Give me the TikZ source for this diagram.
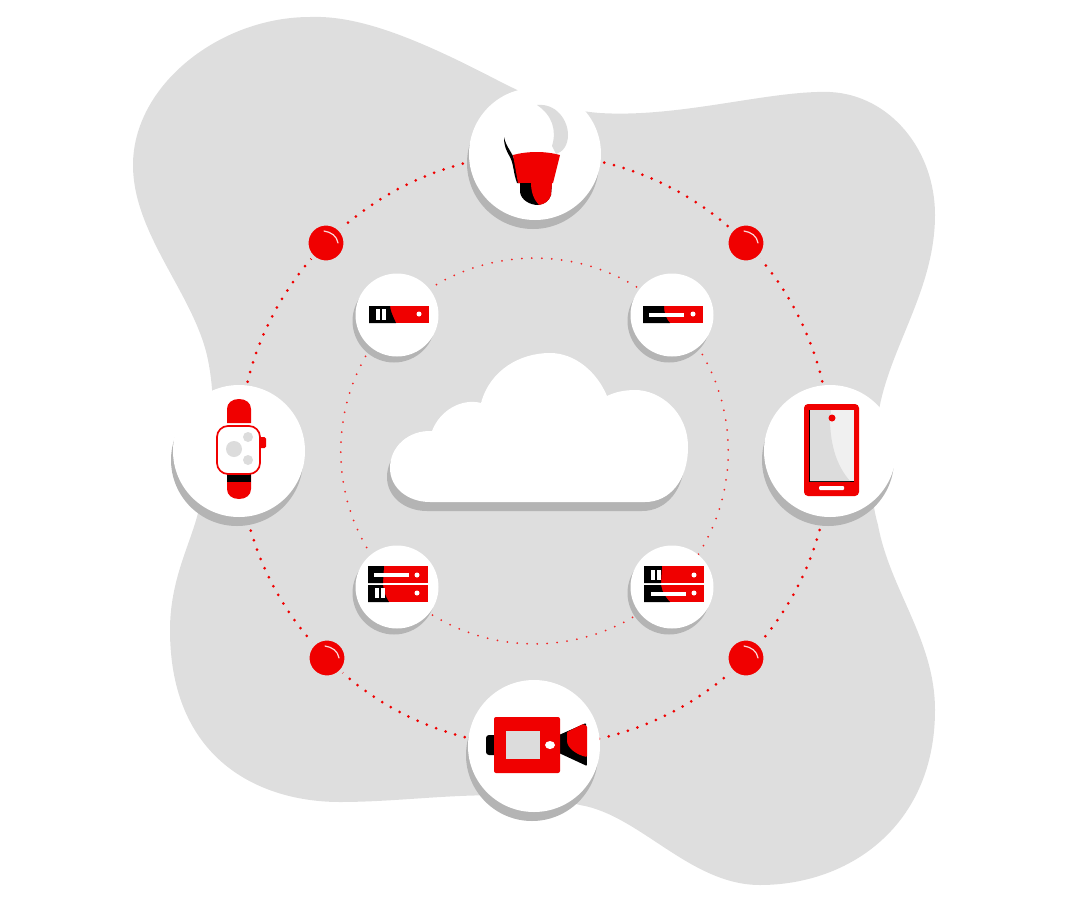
\documentclass[tikz,border=0pt]{standalone}
\usetikzlibrary{shadows,backgrounds}
\definecolor{iconred}{HTML}{F00000}
\definecolor{blobgray}{HTML}{DEDEDE}
\definecolor{shadowgray}{HTML}{B4B4B4}
\definecolor{icongray}{HTML}{DCDCDC}
\pgfdeclarelayer{backdrop}
\pgfsetlayers{backdrop,background,main}
\tikzset{
	hub/.style={circle,fill=white,minimum size=132pt,inner sep=0pt,drop shadow={shadow xshift=-2pt,shadow yshift=-9pt,fill=shadowgray,opacity=1}},
	server/.style={circle,fill=white,minimum size=83pt,inner sep=0pt,drop shadow={shadow xshift=-3pt,shadow yshift=-6pt,fill=shadowgray,opacity=1}},
	ball/.style={circle,fill=iconred,draw=blobgray,line width=4pt,minimum size=39pt,inner sep=0pt},
	outerring/.style={draw=iconred,line width=3pt,line cap=round,dash pattern=on 0pt off 10pt,bend left=22.5,looseness=0.885},
	innerring/.style={draw=iconred!85!white,line width=2pt,line cap=round,dash pattern=on 0pt off 10pt,bend left=45},
}
\begin{document}
\begin{tikzpicture}[x=1pt,y=-1pt]
	\useasboundingbox (0,0) rectangle (1080,900);
	% backdrop
	\begin{pgfonlayer}{backdrop}
	\fill[blobgray] (310,17) .. controls (360,15) and (420,40) .. (497,80) .. controls (530,97) and (560,110) .. (600,113) .. controls (680,118) and (770,90) .. (830,92) .. controls (890,95) and (935,150) .. (935,215) .. controls (935,285) and (895,340) .. (881,400) .. controls (870,450) and (868,490) .. (878,525) .. controls (890,590) and (935,640) .. (935,710) .. controls (935,825) and (850,885) .. (760,885) .. controls (690,885) and (640,815) .. (580,805) .. controls (500,785) and (420,802) .. (340,802) .. controls (260,802) and (170,760) .. (170,630) .. controls (170,580) and (190,545) .. (198,513) .. controls (207,475) and (220,420) .. (208,360) .. controls (195,295) and (133,235) .. (133,165) .. controls (133,85) and (220,17) .. (310,17) -- cycle;
	\end{pgfonlayer}

	% devices
	\node[hub] (Lamp) at (535,154) {};
	\node[hub] (Phone) at (830,451) {};
	\node[hub] (Camera) at (534,746) {};
	\node[hub] (Watch) at (239,451) {};
	% servers
	\node[server] (ServerNW) at (397,315) {};
	\node[server] (ServerNE) at (672,315) {};
	\node[server] (ServerSE) at (672,587) {};
	\node[server] (ServerSW) at (397,587) {};
	% red balls
	\node[ball] (BallNW) at (326,243) {};
	\node[ball] (BallNE) at (746,243) {};
	\node[ball] (BallSE) at (746,658) {};
	\node[ball] (BallSW) at (327,658) {};
	\foreach \bx/\by in {326/243,746/243,746/658,327/658}
		\draw[white,line width=1.2pt,line cap=round,opacity=0.85] (\bx-2,\by-12) .. controls (\bx+5,\by-11) and (\bx+11,\by-7) .. (\bx+12,\by);

	% rings, behind the nodes
	\begin{scope}[on background layer]
	\draw[outerring] (Lamp.center) to (BallNE.center);
	\draw[outerring] (BallNE.center) to (Phone.center);
	\draw[outerring] (Phone.center) to (BallSE.center);
	\draw[outerring] (BallSE.center) to (Camera.center);
	\draw[outerring] (Camera.center) to (BallSW.center);
	\draw[outerring] (BallSW.center) to (Watch.center);
	\draw[outerring] (Watch.center) to (BallNW.center);
	\draw[outerring] (BallNW.center) to (Lamp.center);
	\draw[innerring] (ServerNW.center) to (ServerNE.center);
	\draw[innerring] (ServerNE.center) to (ServerSE.center);
	\draw[innerring] (ServerSE.center) to (ServerSW.center);
	\draw[innerring] (ServerSW.center) to (ServerNW.center);
	\end{scope}

	% cloud
	\fill[shadowgray,xshift=-3pt,yshift=-9pt] (430,502) -- (645,502) .. controls (670,502) and (688,480) .. (688,447) .. controls (688,412) and (660,390) .. (635,390) .. controls (625,390) and (615,392) .. (607,396) .. controls (597,372) and (575,353) .. (550,353) .. controls (520,353) and (490,370) .. (481,403) .. controls (462,398) and (440,410) .. (432,431) .. controls (408,430) and (390,447) .. (390,468) .. controls (390,488) and (408,502) .. (430,502) -- cycle;
	\fill[white] (430,502) -- (645,502) .. controls (670,502) and (688,480) .. (688,447) .. controls (688,412) and (660,390) .. (635,390) .. controls (625,390) and (615,392) .. (607,396) .. controls (597,372) and (575,353) .. (550,353) .. controls (520,353) and (490,370) .. (481,403) .. controls (462,398) and (440,410) .. (432,431) .. controls (408,430) and (390,447) .. (390,468) .. controls (390,488) and (408,502) .. (430,502) -- cycle;

	% lamp icon
	\fill[icongray] (537,105) .. controls (556,103) and (568,120) .. (568,135) .. controls (568,145) and (563,152) .. (556,154) -- (552,146) .. controls (557,130) and (552,115) .. (537,105) -- cycle;
	\fill[black] (504,137) .. controls (506,146) and (510,150) .. (513,156) .. controls (516,165) and (516,172) .. (520,183) -- (517,183) .. controls (513,172) and (514,165) .. (510,157) .. controls (506,150) and (504,146) .. (504,137) -- cycle;
	\fill[iconred] (513,155) .. controls (528,151) and (545,151) .. (560,155) -- (553,183) -- (518,183) -- cycle;
	\fill[black] (520,183) -- (552,183) -- (551,195) .. controls (549,201) and (545,204) .. (538,205) .. controls (530,205) and (521,200) .. (520,192) -- cycle;
	\fill[iconred] (531,183) -- (552,183) -- (551,195) .. controls (549,201) and (545,204) .. (539,205) .. controls (534,200) and (531,192) .. (531,183) -- cycle;

	% watch icon
	\fill[iconred] (227,423) -- (227,409) .. controls (227,403) and (232,399) .. (239,399) .. controls (246,399) and (251,403) .. (251,409) -- (251,423) -- cycle;
	\fill[iconred] (227,474) -- (227,489) .. controls (227,495) and (232,499) .. (239,499) .. controls (246,499) and (251,495) .. (251,489) -- (251,474) -- cycle;
	\fill[black] (227,474) rectangle (251,482);
	\fill[iconred,rounded corners=1.5pt] (258,437) rectangle (266,448);
	\draw[iconred,fill=white,line width=1.7pt,rounded corners=11pt] (217,426) rectangle (260,474);
	\fill[icongray] (234,449) circle (8);
	\fill[icongray] (248,437) circle (5);
	\fill[icongray] (248,460) circle (5);

	% phone icon
	\fill[iconred,rounded corners=4pt] (804,404) rectangle (859,496);
	\fill[black] (809,410) rectangle (854,482);
	\fill[white!94!black] (810,410) rectangle (854,481);
	\fill[icongray] (810,410) -- (831,410) -- (830,423) .. controls (831,445) and (836,465) .. (850,481) -- (810,481) -- cycle;
	\fill[iconred] (832,418) circle (3.5);
	\fill[white,rounded corners=1pt] (819,486) rectangle (844,490);

	% camera icon
	\fill[black,rounded corners=3pt] (486,735) rectangle (497,755);
	\fill[black,rounded corners=1pt] (559,735) -- (586,723) -- (587,766) -- (559,753) -- cycle;
	\fill[iconred,rounded corners=1pt] (567,732) -- (583,724) -- (587,726) -- (587,757) .. controls (577,755) and (567,748) .. (567,740) -- cycle;
	\fill[iconred,rounded corners=2pt] (494,717) rectangle (560,773);
	\fill[icongray] (506,731) rectangle (540,759);
	\fill[white] (550,745) ellipse (5 and 4);

	% server icon, upper left
	\fill[iconred] (369,306) rectangle (429,323);
	\fill[black] (369,306) -- (390,306) .. controls (391,314) and (395,320) .. (396,323) -- (369,323) -- cycle;
	\fill[white] (376,309) rectangle (380,320);
	\fill[white] (382,309) rectangle (386,320);
	\fill[white] (419,314) circle (2.5);

	% server icon, upper right
	\fill[iconred] (643,306) rectangle (703,323);
	\fill[black] (643,306) -- (664,306) .. controls (664,314) and (667,320) .. (670,323) -- (643,323) -- cycle;
	\fill[white] (649,313) rectangle (684,317);
	\fill[white] (693,314) circle (2.5);

	% server icon, lower left
	\fill[iconred] (368,566) rectangle (428,583);
	\fill[iconred] (368,585) rectangle (428,602);
	\fill[black] (368,566) -- (384,566) -- (383,583) -- (368,583) -- cycle;
	\fill[black] (368,585) -- (383,585) .. controls (384,592) and (386,598) .. (389,602) -- (368,602) -- cycle;
	\fill[white] (374,573) rectangle (409,577);
	\fill[white] (417,575) circle (2.5);
	\fill[white] (375,588) rectangle (379,598);
	\fill[white] (381,588) rectangle (385,598);
	\fill[white] (417,593) circle (2.5);

	% server icon, lower right
	\fill[iconred] (644,566) rectangle (704,583);
	\fill[iconred] (644,585) rectangle (704,602);
	\fill[black] (644,566) -- (662,566) -- (661,583) -- (644,583) -- cycle;
	\fill[black] (644,585) -- (661,585) .. controls (662,592) and (666,598) .. (670,602) -- (644,602) -- cycle;
	\fill[white] (651,570) rectangle (655,580);
	\fill[white] (657,570) rectangle (661,580);
	\fill[white] (694,575) circle (2.5);
	\fill[white] (651,592) rectangle (686,596);
	\fill[white] (694,593) circle (2.5);
\end{tikzpicture}
\end{document}
